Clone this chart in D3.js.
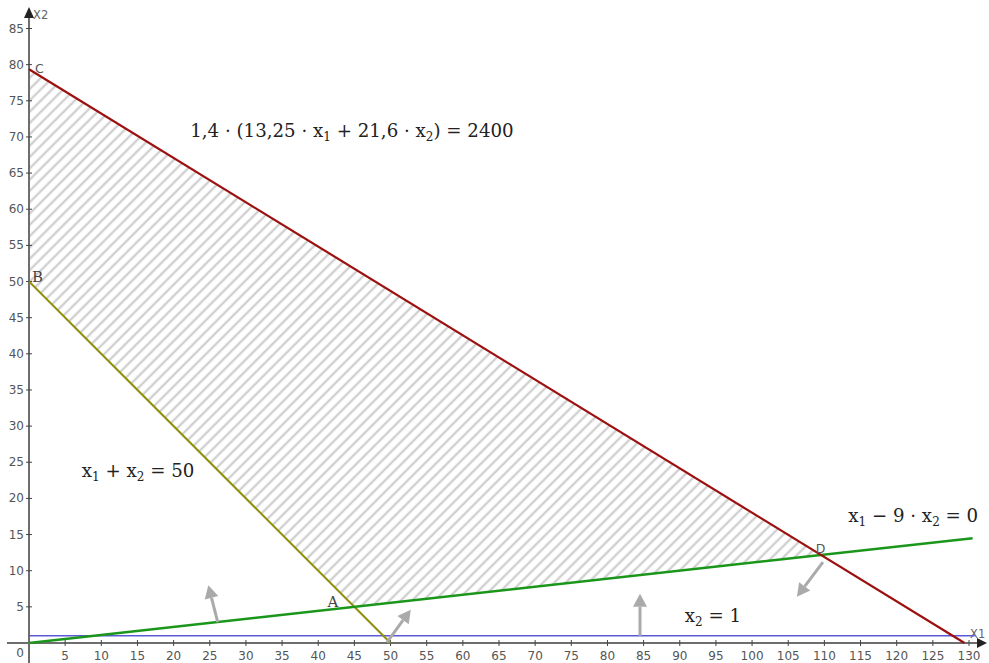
<!DOCTYPE html>
<html><head><meta charset="utf-8">
<script src="https://cdn.jsdelivr.net/npm/d3@7"></script>
<style>body{margin:0;background:#fff}svg{display:block}</style>
</head><body><svg id="c" width="989" height="663"></svg>
<script>
// ---- data ----
const xTicks = [5,10,15,20,25,30,35,40,45,50,55,60,65,70,75,80,85,90,95,100,105,110,115,120,125,130];
const yTicks = [5,10,15,20,25,30,35,40,45,50,55,60,65,70,75,80,85];
// constraint lines: endpoints in data units
const redLine = [[0, 79.37], [129.38, 0]];        // 1,4·(13,25x1+21,6x2)=2400
const oliveLine = [[0, 50], [50, 0]];              // x1+x2=50
const greenLine = [[0, 0], [130.5, 14.5]];         // x1-9x2=0
const blueLine = [[0, 1], [130.8, 1]];             // x2=1
const region = [[0, 50], [0, 79.37], [109.5, 12.17], [45, 5]]; // B C D A
const points = [
  {name:"C", x:0, y:79.37, dx:6, dy:4, serif:false},
  {name:"B", x:0, y:50, dx:3, dy:0, serif:true},
  {name:"A", x:45, y:5, dx:-27, dy:0, serif:true},
  {name:"D", x:109.5, y:12.17, dx:-5, dy:-2, serif:false}
];
const arrows = [
  [[26.1, 2.9], [24.8, 8.0]],
  [[49.5, 0.1], [52.8, 4.6]],
  [[84.5, 1.0], [84.5, 6.8]],
  [[109.8, 11.2], [106.2, 6.4]]
];
const labels = [
  {x:22.3, y:70, parts:[["1,4 · (13,25 · x"],["1","sub"],[" + 21,6 · x"],["2","sub"],[") = 2400"]]},
  {x:7.3, y:23, parts:[["x"],["1","sub"],[" + x"],["2","sub"],[" = 50"]]},
  {x:113.3, y:16.7, parts:[["x"],["1","sub"],[" − 9 · x"],["2","sub"],[" = 0"]]},
  {x:90.7, y:2.9, parts:[["x"],["2","sub"],[" = 1"]]}
];

// ---- scales ----
const x = d3.scaleLinear().domain([0,130]).range([29, 969]);
const y = d3.scaleLinear().domain([0,85]).range([643, 28.5]);
const svg = d3.select("#c");

// hatch pattern
const defs = svg.append("defs");
const pat = defs.append("pattern").attr("id","hatch").attr("patternUnits","userSpaceOnUse")
  .attr("width",8).attr("height",8).attr("patternTransform","rotate(-45)");
pat.append("line").attr("x1",0).attr("x2",8).attr("y1",4).attr("y2",4)
  .attr("stroke","#d0d0d0").attr("stroke-width",2.4);

// region
svg.append("path").attr("d", d3.line().x(d=>x(d[0])).y(d=>y(d[1]))(region)+"Z")
  .attr("fill","url(#hatch)");

// axes
const ax = svg.append("g").attr("stroke","#6e6e6e");
ax.append("line").attr("x1",7).attr("x2",980).attr("y1",y(0)).attr("y2",y(0)).attr("stroke-width",2);
ax.append("line").attr("x1",x(0)).attr("x2",x(0)).attr("y1",663).attr("y2",16).attr("stroke-width",2);
svg.append("path").attr("d",`M${989-2},${y(0)}L${977},${y(0)-5}L${977},${y(0)+5}Z`).attr("fill","#222");
svg.append("path").attr("d",`M${x(0)},${7}L${x(0)-5},${18}L${x(0)+5},${18}Z`).attr("fill","#222");

const tickFont = "'DejaVu Sans', sans-serif";
const gx = svg.append("g");
xTicks.forEach(t=>{
  gx.append("line").attr("x1",x(t)).attr("x2",x(t)).attr("y1",y(0)-3).attr("y2",y(0)+3).attr("stroke","#444").attr("stroke-width",1);
  gx.append("text").attr("x",x(t)).attr("y",y(0)+17).attr("text-anchor","middle")
    .attr("font-family",tickFont).attr("font-size",12).attr("fill","#555").text(t);
});
const gy = svg.append("g");
yTicks.forEach(t=>{
  gy.append("line").attr("x1",x(0)-3).attr("x2",x(0)+3).attr("y1",y(t)).attr("y2",y(t)).attr("stroke","#444").attr("stroke-width",1);
  gy.append("text").attr("x",x(0)-5).attr("y",y(t)+4).attr("text-anchor","end")
    .attr("font-family",tickFont).attr("font-size",12).attr("fill","#555").text(t);
});
svg.append("text").attr("x",x(0)-5).attr("y",y(0)+14).attr("text-anchor","end")
  .attr("font-family",tickFont).attr("font-size",12).attr("fill","#555").text("0");
svg.append("text").attr("x",x(0)+4).attr("y",19).attr("font-family",tickFont).attr("font-size",11.5).attr("fill","#666").text("X2");
svg.append("text").attr("x",970).attr("y",y(0)-5).attr("font-family",tickFont).attr("font-size",11.5).attr("fill","#666").text("X1");

// lines
const lineGen = d3.line().x(d=>x(d[0])).y(d=>y(d[1]));
svg.append("path").attr("d",lineGen(blueLine)).attr("stroke","#5a5ad8").attr("stroke-width",1.6).attr("fill","none");
svg.append("path").attr("d",lineGen(oliveLine)).attr("stroke","#8f8f10").attr("stroke-width",2).attr("fill","none");
svg.append("path").attr("d",lineGen(greenLine)).attr("stroke","#1a961a").attr("stroke-width",2.5).attr("fill","none");
svg.append("path").attr("d",lineGen(redLine)).attr("stroke","#9c1010").attr("stroke-width",2.2).attr("fill","none");

// arrows
arrows.forEach(a=>{
  const x1=x(a[0][0]), y1=y(a[0][1]), x2=x(a[1][0]), y2=y(a[1][1]);
  const L=Math.hypot(x2-x1,y2-y1), ux=(x2-x1)/L, uy=(y2-y1)/L;
  const hl=13, hw=7;
  const bx=x2-ux*hl, by=y2-uy*hl;
  svg.append("line").attr("x1",x1).attr("y1",y1).attr("x2",bx).attr("y2",by)
    .attr("stroke","#aaaaaa").attr("stroke-width",3);
  svg.append("path").attr("d",`M${x2},${y2}L${bx-uy*hw},${by+ux*hw}L${bx+uy*hw},${by-ux*hw}Z`).attr("fill","#aaaaaa");
});

// point labels
points.forEach(p=>{
  svg.append("text").attr("x",x(p.x)+p.dx).attr("y",y(p.y)+p.dy)
    .attr("font-family", p.serif ? "'DejaVu Serif', serif" : tickFont)
    .attr("font-size", p.serif ? 15 : 12.5).attr("fill", p.serif ? "#444" : "#555").text(p.name);
});

// equation labels
labels.forEach(l=>{
  const t = svg.append("text").attr("x",x(l.x)).attr("y",y(l.y))
    .attr("font-family","'DejaVu Serif',serif").attr("font-size",18.2).attr("fill","#222");
  let prevSub = false;
  l.parts.forEach(p=>{
    if (p[1]==="sub") { t.append("tspan").attr("font-size",12).attr("dy",4).text(p[0]); prevSub = true; }
    else { const ts = t.append("tspan").text(p[0]); if (prevSub) ts.attr("dy",-4); prevSub = false; }
  });
});
</script></body></html>
